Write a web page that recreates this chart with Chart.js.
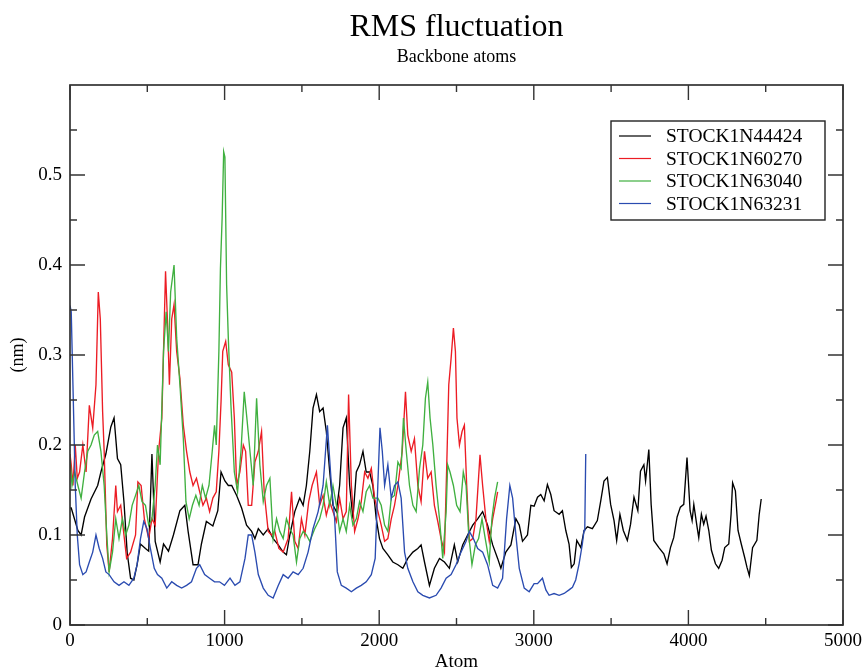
<!DOCTYPE html>
<html>
<head>
<meta charset="utf-8">
<title>RMS fluctuation</title>
<script src="https://cdn.jsdelivr.net/npm/chart.js@4"></script>
<style>
  html, body { margin: 0; padding: 0; background: #fff; }
  #wrap { width: 867px; height: 672px; position: relative; }
</style>
</head>
<body>
<div id="wrap"><canvas id="rmsf"></canvas></div>
<script>
// RMSF per atom (nm): [atom, value]
const stock44424 = [[0,0.13],[8,0.13],[51,0.105],[72,0.10],[94,0.12],[136,0.14],[179,0.155],[200,0.17],[232,0.19],[264,0.22],[285,0.23],[307,0.185],[328,0.178],[349,0.137],[370,0.08],[392,0.052],[413,0.05],[434,0.067],[456,0.09],[488,0.085],[509,0.082],[530,0.19],[551,0.093],[583,0.07],[605,0.09],[637,0.082],[669,0.1],[711,0.127],[743,0.133],[764,0.104],[796,0.067],[828,0.067],[850,0.09],[882,0.115],[924,0.11],[956,0.127],[977,0.17],[1002,0.16],[1024,0.155],[1046,0.155],[1078,0.144],[1110,0.13],[1142,0.111],[1175,0.104],[1196,0.096],[1218,0.107],[1250,0.1],[1282,0.107],[1314,0.096],[1347,0.089],[1379,0.081],[1400,0.078],[1422,0.1],[1454,0.126],[1486,0.141],[1508,0.133],[1529,0.155],[1551,0.193],[1572,0.241],[1594,0.256],[1615,0.237],[1637,0.241],[1658,0.215],[1680,0.17],[1701,0.133],[1723,0.126],[1744,0.155],[1766,0.219],[1787,0.23],[1809,0.155],[1830,0.118],[1852,0.17],[1873,0.178],[1895,0.193],[1916,0.17],[1938,0.17],[1959,0.155],[1981,0.118],[2002,0.096],[2024,0.085],[2056,0.078],[2088,0.07],[2121,0.067],[2153,0.063],[2185,0.074],[2218,0.081],[2250,0.085],[2271,0.089],[2293,0.07],[2325,0.044],[2357,0.063],[2390,0.074],[2422,0.07],[2454,0.063],[2486,0.089],[2508,0.07],[2540,0.089],[2572,0.1],[2605,0.111],[2637,0.118],[2669,0.126],[2701,0.111],[2734,0.089],[2766,0.074],[2787,0.063],[2819,0.081],[2852,0.089],[2884,0.118],[2906,0.111],[2927,0.093],[2959,0.1],[2981,0.133],[3002,0.132],[3024,0.142],[3045,0.145],[3067,0.138],[3088,0.156],[3110,0.145],[3131,0.127],[3164,0.123],[3185,0.127],[3207,0.105],[3228,0.09],[3243,0.064],[3261,0.068],[3278,0.094],[3304,0.086],[3325,0.105],[3347,0.109],[3379,0.107],[3411,0.116],[3433,0.138],[3454,0.16],[3476,0.164],[3497,0.134],[3519,0.116],[3536,0.094],[3557,0.123],[3579,0.105],[3605,0.094],[3626,0.112],[3648,0.142],[3673,0.127],[3690,0.171],[3712,0.178],[3723,0.16],[3744,0.195],[3759,0.134],[3776,0.094],[3809,0.086],[3841,0.079],[3862,0.068],[3884,0.086],[3905,0.097],[3927,0.12],[3948,0.131],[3970,0.134],[3991,0.186],[4011,0.127],[4024,0.116],[4035,0.134],[4056,0.109],[4067,0.097],[4084,0.123],[4099,0.112],[4114,0.121],[4132,0.105],[4149,0.083],[4175,0.068],[4196,0.063],[4218,0.072],[4235,0.086],[4261,0.09],[4276,0.123],[4286,0.158],[4304,0.149],[4321,0.105],[4342,0.09],[4364,0.075],[4379,0.064],[4394,0.055],[4415,0.086],[4443,0.094],[4458,0.123],[4471,0.14]];

const stock60270 = [[0,0.19],[8,0.178],[19,0.155],[34,0.2],[47,0.163],[62,0.17],[83,0.2],[104,0.17],[125,0.244],[147,0.219],[168,0.267],[183,0.37],[196,0.34],[211,0.237],[221,0.193],[238,0.089],[253,0.059],[275,0.096],[296,0.155],[307,0.126],[328,0.133],[349,0.1],[366,0.074],[392,0.081],[424,0.1],[439,0.159],[460,0.155],[481,0.118],[509,0.096],[530,0.118],[551,0.111],[573,0.193],[594,0.23],[618,0.393],[630,0.34],[643,0.267],[658,0.34],[673,0.356],[690,0.304],[711,0.274],[733,0.222],[754,0.193],[775,0.17],[796,0.155],[818,0.163],[839,0.148],[860,0.133],[882,0.141],[903,0.126],[924,0.141],[946,0.148],[963,0.193],[977,0.248],[988,0.304],[1007,0.315],[1024,0.289],[1046,0.281],[1063,0.23],[1078,0.155],[1099,0.17],[1121,0.2],[1136,0.193],[1153,0.133],[1175,0.133],[1196,0.181],[1218,0.193],[1239,0.215],[1256,0.148],[1282,0.104],[1304,0.1],[1325,0.104],[1351,0.085],[1379,0.081],[1411,0.096],[1433,0.148],[1454,0.093],[1476,0.085],[1497,0.118],[1519,0.1],[1544,0.137],[1566,0.155],[1594,0.17],[1615,0.133],[1637,0.144],[1658,0.122],[1680,0.137],[1701,0.126],[1723,0.115],[1744,0.141],[1766,0.118],[1787,0.126],[1802,0.256],[1820,0.155],[1841,0.104],[1863,0.118],[1884,0.137],[1906,0.17],[1927,0.163],[1949,0.174],[1970,0.141],[1992,0.126],[2013,0.111],[2035,0.093],[2056,0.096],[2078,0.118],[2099,0.133],[2121,0.155],[2149,0.193],[2170,0.259],[2185,0.211],[2207,0.193],[2228,0.207],[2250,0.155],[2271,0.137],[2293,0.193],[2314,0.163],[2336,0.17],[2357,0.133],[2379,0.115],[2400,0.096],[2422,0.081],[2437,0.178],[2450,0.267],[2465,0.296],[2480,0.33],[2493,0.304],[2503,0.23],[2519,0.2],[2536,0.215],[2551,0.222],[2566,0.155],[2583,0.093],[2605,0.096],[2626,0.118],[2652,0.189],[2669,0.155],[2690,0.118],[2712,0.093],[2734,0.118],[2755,0.137],[2766,0.148]];

const stock63040 = [[0,0.185],[13,0.155],[30,0.17],[51,0.155],[72,0.141],[94,0.17],[115,0.193],[136,0.2],[157,0.211],[179,0.215],[200,0.193],[221,0.155],[238,0.1],[253,0.059],[275,0.081],[296,0.118],[317,0.096],[339,0.118],[360,0.1],[381,0.111],[402,0.133],[424,0.144],[445,0.155],[466,0.137],[488,0.133],[509,0.111],[530,0.118],[551,0.155],[566,0.2],[583,0.178],[605,0.304],[622,0.348],[637,0.304],[651,0.37],[673,0.4],[690,0.319],[711,0.267],[733,0.207],[750,0.137],[771,0.118],[792,0.133],[814,0.144],[835,0.133],[856,0.155],[877,0.141],[899,0.155],[920,0.193],[935,0.222],[946,0.2],[963,0.304],[973,0.396],[984,0.452],[994,0.526],[1002,0.52],[1013,0.378],[1024,0.319],[1041,0.244],[1063,0.17],[1084,0.148],[1106,0.193],[1127,0.259],[1144,0.23],[1164,0.193],[1185,0.155],[1207,0.252],[1228,0.178],[1250,0.137],[1271,0.155],[1293,0.163],[1314,0.096],[1336,0.118],[1357,0.104],[1379,0.096],[1400,0.118],[1422,0.107],[1443,0.1],[1465,0.07],[1486,0.096],[1508,0.104],[1529,0.1],[1551,0.093],[1583,0.107],[1615,0.118],[1637,0.133],[1658,0.159],[1680,0.133],[1701,0.155],[1723,0.133],[1744,0.104],[1766,0.118],[1787,0.104],[1809,0.133],[1830,0.111],[1852,0.118],[1873,0.137],[1895,0.126],[1916,0.148],[1938,0.155],[1959,0.141],[1992,0.141],[2013,0.133],[2035,0.111],[2056,0.104],[2078,0.141],[2099,0.144],[2121,0.181],[2142,0.174],[2157,0.23],[2175,0.193],[2196,0.155],[2218,0.133],[2239,0.126],[2261,0.174],[2282,0.2],[2299,0.252],[2314,0.27],[2329,0.23],[2347,0.2],[2368,0.155],[2390,0.118],[2411,0.074],[2433,0.126],[2443,0.178],[2458,0.17],[2480,0.155],[2501,0.133],[2523,0.126],[2544,0.17],[2562,0.155],[2579,0.1],[2600,0.067],[2622,0.089],[2643,0.096],[2665,0.118],[2686,0.096],[2712,0.07],[2729,0.118],[2746,0.141],[2766,0.159]];

const stock63231 = [[0,0.355],[8,0.348],[19,0.267],[34,0.155],[47,0.1],[62,0.067],[83,0.056],[104,0.059],[125,0.07],[147,0.081],[168,0.1],[189,0.085],[211,0.074],[232,0.059],[253,0.056],[285,0.048],[317,0.044],[349,0.048],[381,0.044],[413,0.052],[434,0.067],[456,0.096],[477,0.115],[498,0.107],[520,0.085],[545,0.063],[566,0.056],[594,0.052],[626,0.041],[658,0.048],[690,0.044],[722,0.041],[754,0.044],[786,0.048],[818,0.063],[839,0.067],[871,0.056],[903,0.052],[935,0.048],[967,0.048],[999,0.044],[1035,0.052],[1067,0.044],[1099,0.048],[1132,0.074],[1153,0.1],[1175,0.1],[1196,0.081],[1218,0.056],[1250,0.041],[1282,0.033],[1314,0.03],[1347,0.044],[1379,0.056],[1411,0.052],[1443,0.059],[1476,0.056],[1508,0.063],[1540,0.081],[1572,0.107],[1605,0.126],[1637,0.155],[1665,0.222],[1691,0.155],[1712,0.118],[1729,0.059],[1755,0.044],[1787,0.041],[1820,0.037],[1852,0.041],[1884,0.044],[1916,0.048],[1949,0.056],[1974,0.074],[1991,0.155],[2005,0.219],[2020,0.193],[2035,0.155],[2056,0.178],[2078,0.141],[2099,0.155],[2121,0.159],[2142,0.141],[2164,0.081],[2185,0.063],[2218,0.048],[2250,0.037],[2282,0.033],[2325,0.03],[2368,0.033],[2400,0.041],[2433,0.052],[2465,0.056],[2497,0.067],[2529,0.081],[2562,0.093],[2583,0.104],[2609,0.096],[2637,0.085],[2669,0.081],[2701,0.067],[2734,0.044],[2766,0.041],[2798,0.052],[2824,0.118],[2845,0.155],[2863,0.141],[2884,0.1],[2906,0.063],[2938,0.041],[2970,0.037],[3002,0.046],[3024,0.046],[3056,0.052],[3078,0.039],[3099,0.033],[3131,0.035],[3164,0.033],[3196,0.035],[3228,0.039],[3250,0.042],[3271,0.05],[3293,0.068],[3314,0.09],[3325,0.105],[3330,0.11],[3336,0.19]];

const seriesNames = ['STOCK1N44424', 'STOCK1N60270', 'STOCK1N63040', 'STOCK1N63231'];
const xMajor = [0, 1000, 2000, 3000, 4000, 5000];
const xMinor = [500, 1500, 2500, 3500, 4500];
const yMajor = [0, 0.1, 0.2, 0.3, 0.4, 0.5];
const yMinor = [0.05, 0.15, 0.25, 0.35, 0.45, 0.55];

const titleText = 'RMS fluctuation';
const subtitleText = 'Backbone atoms';

const serif = "'Liberation Serif', 'DejaVu Serif', serif";
const colors = ['#000000', '#ec1c24', '#40b040', '#2a4bb0'];

function toPoints(rows) {
    return rows.map(r => ({ x: r[0], y: r[1] }));
}

// xmgrace look: frame, inward ticks on all sides, titles over the plot
const graceFrame = {
    id: 'graceFrame',
    afterDraw(chart) {
        const ctx = chart.ctx;
        const a = chart.chartArea;
        const xs = chart.scales.x, ys = chart.scales.y;
        ctx.save();
        ctx.strokeStyle = '#333';
        ctx.lineWidth = 1.7;
        ctx.strokeRect(a.left, a.top, a.right - a.left, a.bottom - a.top);

        function xTick(v, len) {
            const px = xs.getPixelForValue(v);
            ctx.beginPath();
            ctx.moveTo(px, a.bottom); ctx.lineTo(px, a.bottom - len);
            ctx.moveTo(px, a.top); ctx.lineTo(px, a.top + len);
            ctx.stroke();
        }
        function yTick(v, len) {
            const py = ys.getPixelForValue(v);
            ctx.beginPath();
            ctx.moveTo(a.left, py); ctx.lineTo(a.left + len, py);
            ctx.moveTo(a.right, py); ctx.lineTo(a.right - len, py);
            ctx.stroke();
        }
        ctx.lineWidth = 1.4;
        xMajor.forEach(v => xTick(v, 15));
        xMinor.forEach(v => xTick(v, 7));
        yMajor.forEach(v => yTick(v, 15));
        yMinor.forEach(v => yTick(v, 7));

        // titles centred over the plot area
        const cx = (a.left + a.right) / 2;
        ctx.fillStyle = '#000';
        ctx.textAlign = 'center';
        ctx.textBaseline = 'middle';
        ctx.font = '32px ' + serif;
        ctx.fillText(titleText, cx, 28);
        ctx.font = '18px ' + serif;
        ctx.fillText(subtitleText, cx, 57);

        // legend box, top right inside the frame
        const boxW = 214, boxH = 99;
        const bx = a.right - 18 - boxW, by = a.top + 36;
        ctx.fillStyle = '#fff';
        ctx.fillRect(bx, by, boxW, boxH);
        ctx.strokeStyle = '#222';
        ctx.lineWidth = 1.4;
        ctx.strokeRect(bx, by, boxW, boxH);
        ctx.textAlign = 'left';
        ctx.font = '19.5px ' + serif;
        chart.data.datasets.forEach((ds, i) => {
            const ry = by + 15 + i * 22.5;
            ctx.strokeStyle = ds.borderColor;
            ctx.lineWidth = 1.2;
            ctx.beginPath();
            ctx.moveTo(bx + 8, ry); ctx.lineTo(bx + 40, ry);
            ctx.stroke();
            ctx.fillStyle = '#000';
            ctx.fillText(ds.label, bx + 55, ry + 1);
        });
        ctx.restore();
    }
};

const allSeries = [stock44424, stock60270, stock63040, stock63231];

new Chart(document.getElementById('rmsf'), {
    type: 'line',
    data: {
        datasets: allSeries.map((rows, i) => ({
            label: seriesNames[i],
            data: toPoints(rows),
            borderColor: colors[i],
            backgroundColor: colors[i],
            borderWidth: 1.35,
            pointRadius: 0,
            tension: 0,
            fill: false,
            order: allSeries.length - i // later sets on top, like xmgrace
        }))
    },
    options: {
        responsive: true,
        maintainAspectRatio: false,
        animation: false,
        layout: { padding: { top: 85, right: 22, left: 0, bottom: 0 } },
        plugins: {
            legend: { display: false },
            title: { display: false },
            tooltip: { enabled: false }
        },
        scales: {
            x: {
                type: 'linear',
                min: 0,
                max: 5000,
                afterBuildTicks: s => { s.ticks = xMajor.map(v => ({ value: v })); },
                afterFit: s => { s.height = 47; },
                grid: { display: false, drawTicks: false },
                border: { display: false },
                ticks: {
                    color: '#000',
                    padding: 5,
                    maxRotation: 0,
                    font: { family: serif, size: 19 },
                    callback: v => String(v)
                },
                title: {
                    display: true,
                    text: 'Atom',
                    color: '#000',
                    font: { family: serif, size: 19, lineHeight: 1 },
                    padding: { top: 0, bottom: 0 }
                }
            },
            y: {
                min: 0,
                max: 0.6,
                afterBuildTicks: s => { s.ticks = yMajor.map(v => ({ value: v })); },
                afterFit: s => { s.width = 70; },
                grid: { display: false, drawTicks: false },
                border: { display: false },
                ticks: {
                    color: '#000',
                    padding: 8,
                    font: { family: serif, size: 19 },
                    callback: v => String(Math.round(v * 10) / 10)
                },
                title: {
                    display: true,
                    text: '(nm)',
                    color: '#000',
                    font: { family: serif, size: 18, lineHeight: 1 },
                    padding: { top: 9, bottom: 0 }
                }
            }
        }
    },
    plugins: [graceFrame]
});
</script>
</body>
</html>
